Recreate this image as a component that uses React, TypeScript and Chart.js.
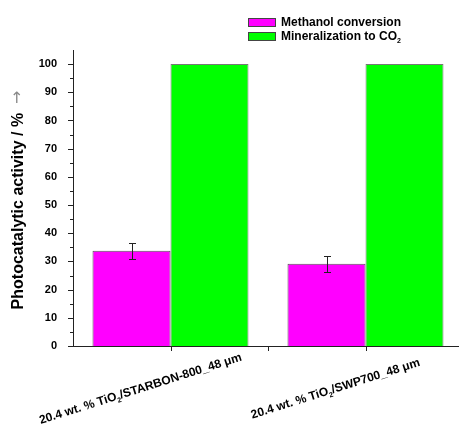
import React, { useEffect, useRef } from 'react';
import { Chart, registerables } from 'chart.js';

Chart.register(...registerables);

// ---- data ----
const categories = ['20.4 wt. % TiO₂/STARBON-800_48 μm', '20.4 wt. % TiO₂/SWP700_48 μm'];
const seriesNames = ['Methanol conversion', 'Mineralization to CO₂'];
const methanolConversion = [33.8, 29.2];
const methanolError = [2.8, 2.8];
const mineralization = [100, 100];
const yTickValues = [0, 10, 20, 30, 40, 50, 60, 70, 80, 90, 100];
const yMinorStep = 5;
const yAxisTitle = 'Photocatalytic activity / %  ';
const yAxisArrow = '→';

// ---- style ----
const FONT = 'Arial, "Liberation Sans", Helvetica, sans-serif';
const MAGENTA = '#FF00FF';
const GREEN = '#00FF00';
const AXIS = '#222222';

function richParts(text: string) {
  const out: { t: string; sub: boolean }[] = [];
  const pieces = text.split('₂');
  pieces.forEach((p, i) => {
    if (p) out.push({ t: p, sub: false });
    if (i < pieces.length - 1) out.push({ t: '2', sub: true });
  });
  return out;
}

function drawRich(ctx: CanvasRenderingContext2D, text: string, x: number, y: number, size: number, align: 'left' | 'center', color = '#000') {
  const parts = richParts(text);
  const main = `bold ${size}px ${FONT}`;
  const subF = `bold ${Math.round(size * 0.62)}px ${FONT}`;
  let total = 0;
  const widths = parts.map((p) => {
    ctx.font = p.sub ? subF : main;
    const w = ctx.measureText(p.t).width;
    total += w;
    return w;
  });
  let cx = align === 'center' ? x - total / 2 : x;
  ctx.textAlign = 'left';
  ctx.textBaseline = 'middle';
  ctx.fillStyle = color;
  parts.forEach((p, i) => {
    ctx.font = p.sub ? subF : main;
    ctx.fillText(p.t, cx, p.sub ? y + size * 0.38 : y);
    cx += widths[i];
  });
}

const decorPlugin = {
  id: 'decor',
  afterDraw(chart: any) {
    const ctx: CanvasRenderingContext2D = chart.ctx;
    const xs = chart.scales.x;
    const ys = chart.scales.y;
    const area = chart.chartArea;
    ctx.save();

    // error bars on methanol conversion
    const meta = chart.getDatasetMeta(0);
    ctx.strokeStyle = AXIS;
    ctx.lineWidth = 1;
    meta.data.forEach((el: any, i: number) => {
      const v = methanolConversion[i];
      const e = methanolError[i];
      const px = Math.round(el.x) + 0.5;
      const top = Math.round(ys.getPixelForValue(v + e)) + 0.5;
      const bot = Math.round(ys.getPixelForValue(v - e)) + 0.5;
      ctx.beginPath();
      ctx.moveTo(px, top);
      ctx.lineTo(px, bot);
      ctx.moveTo(px - 3.5, top);
      ctx.lineTo(px + 3.5, top);
      ctx.moveTo(px - 3.5, bot);
      ctx.lineTo(px + 3.5, bot);
      ctx.stroke();
    });

    // y ticks major / minor
    ctx.strokeStyle = AXIS;
    for (let v = 0; v <= yTickValues[yTickValues.length - 1]; v += yMinorStep) {
      const py = Math.round(ys.getPixelForValue(v)) + 0.5;
      const len = v % 10 === 0 ? 5 : 3;
      ctx.beginPath();
      ctx.moveTo(area.left - len, py);
      ctx.lineTo(area.left, py);
      ctx.stroke();
    }

    // x ticks: category centres and boundaries
    const xt: number[] = [];
    categories.forEach((_, i) => {
      xt.push(xs.getPixelForValue(i));
      if (i < categories.length - 1) xt.push((xs.getPixelForValue(i) + xs.getPixelForValue(i + 1)) / 2);
    });
    xt.forEach((px) => {
      const x0 = Math.round(px) + 0.5;
      ctx.beginPath();
      ctx.moveTo(x0, area.bottom);
      ctx.lineTo(x0, area.bottom + 5);
      ctx.stroke();
    });

    // x labels rotated
    categories.forEach((label, i) => {
      const px = xs.getPixelForValue(i);
      ctx.save();
      ctx.translate(px - 30, area.bottom + 43);
      ctx.rotate((-17.5 * Math.PI) / 180);
      drawRich(ctx, label, 0, 0, 12, 'center');
      ctx.restore();
    });

    // y title
    ctx.save();
    ctx.translate(19, (area.top + area.bottom) / 2 + 2);
    ctx.rotate(-Math.PI / 2);
    ctx.font = `bold 16px ${FONT}`;
    const w1 = ctx.measureText(yAxisTitle).width;
    ctx.font = `16px "DejaVu Sans", ${FONT}`;
    const w2 = ctx.measureText(yAxisArrow).width;
    const start = -(w1 + w2) / 2;
    ctx.textAlign = 'left';
    ctx.textBaseline = 'middle';
    ctx.font = `bold 16px ${FONT}`;
    ctx.fillStyle = '#000';
    ctx.fillText(yAxisTitle, start, 0);
    ctx.font = `16px "DejaVu Sans", ${FONT}`;
    ctx.fillStyle = '#888';
    ctx.fillText(yAxisArrow, start + w1, -1);
    ctx.restore();

    // legend
    const colors = [MAGENTA, GREEN];
    seriesNames.forEach((name, i) => {
      const by = 18 + i * 14;
      ctx.fillStyle = colors[i];
      ctx.fillRect(248, by, 28, 9);
      ctx.strokeStyle = '#444';
      ctx.strokeRect(248.5, by + 0.5, 27, 8);
      drawRich(ctx, name, 281, by + 4.5, 12, 'left');
    });

    ctx.restore();
  },
};

export default function App() {
  const ref = useRef<HTMLCanvasElement | null>(null);
  useEffect(() => {
    if (!ref.current) return;
    const chart = new Chart(ref.current, {
      type: 'bar',
      data: {
        labels: categories,
        datasets: [
          {
            label: seriesNames[0],
            data: methanolConversion,
            backgroundColor: MAGENTA,
            borderColor: '#555',
            borderWidth: 1,
          },
          {
            label: seriesNames[1],
            data: mineralization,
            backgroundColor: GREEN,
            borderColor: '#777',
            borderWidth: 1,
          },
        ],
      },
      options: {
        animation: false,
        responsive: false,
        devicePixelRatio: 1,
        layout: { padding: { top: 50, left: 0, right: 0, bottom: 0 } },
        datasets: { bar: { categoryPercentage: 0.8, barPercentage: 1 } },
        plugins: { legend: { display: false }, title: { display: false }, tooltip: { enabled: false } },
        scales: {
          x: {
            type: 'category',
            offset: true,
            grid: { display: false },
            border: { display: true, color: AXIS, width: 1 },
            ticks: { display: false },
            afterFit: (s: any) => {
              s.height = 81;
            },
          },
          y: {
            min: 0,
            max: 105,
            grid: { display: false },
            border: { display: true, color: AXIS, width: 1 },
            ticks: {
              stepSize: 10,
              includeBounds: false,
              autoSkip: false,
              padding: 8,
              color: '#000',
              font: { family: FONT, size: 11, weight: 'bold' },
              callback: (v: any) => (yTickValues.includes(Number(v)) ? String(v) : ''),
            },
            afterFit: (s: any) => {
              s.width = 73;
            },
          },
        },
      },
      plugins: [decorPlugin],
    } as any);
    return () => chart.destroy();
  }, []);
  return (
    <div style={{ position: 'fixed', left: 0, top: 0, width: 459, height: 427, overflow: 'hidden', background: '#fff' }}>
      <canvas ref={ref} width={463} height={427} style={{ width: 463, height: 427, display: 'block' }} />
    </div>
  );
}
